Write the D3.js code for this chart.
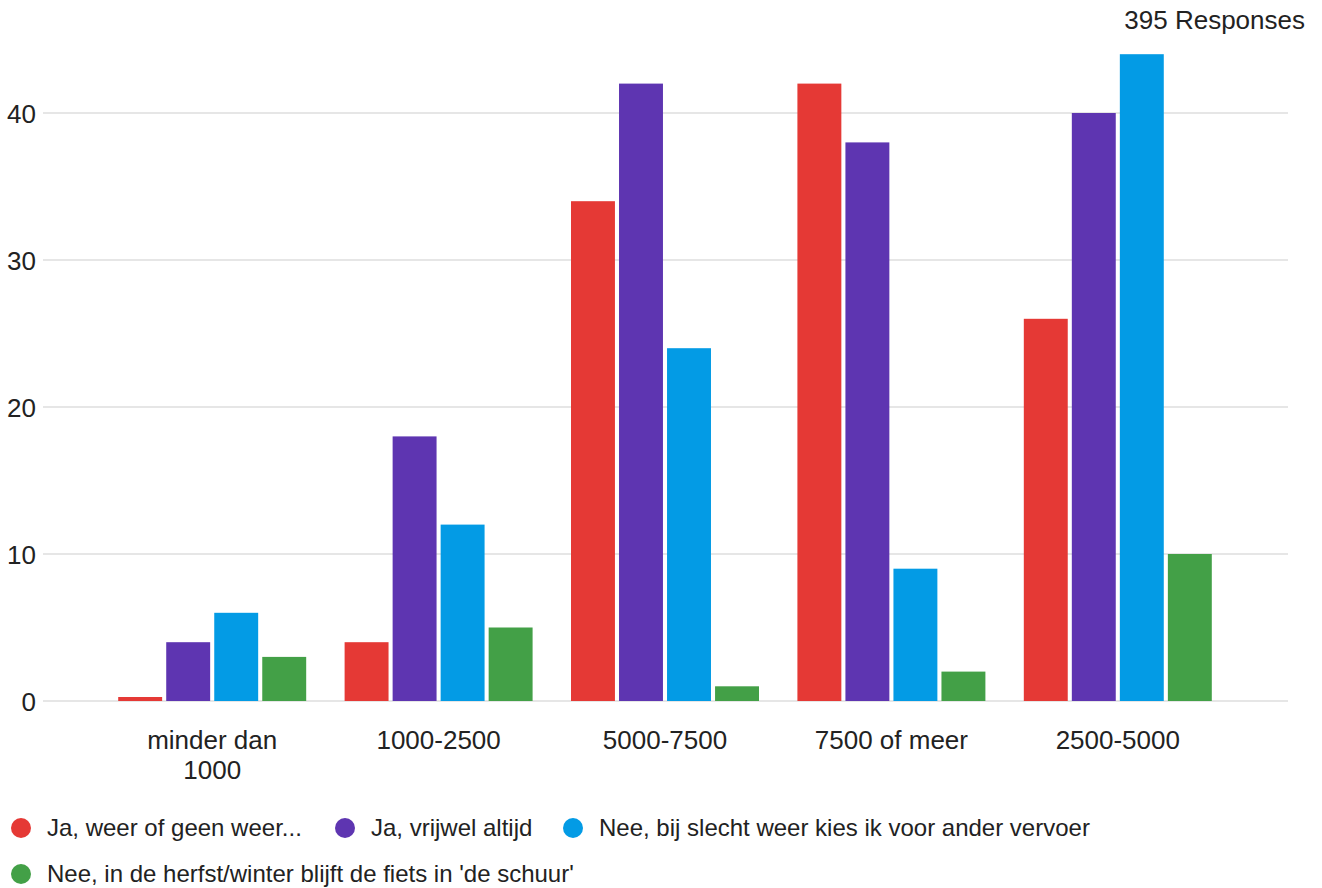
<!DOCTYPE html>
<html>
<head>
<meta charset="utf-8">
<script src="https://cdn.jsdelivr.net/npm/d3@7"></script>
<style>
  html, body { margin: 0; padding: 0; background: #fff; }
  svg { display: block; font-family: "Liberation Sans", Arial, sans-serif; }
</style>
</head>
<body>
<svg id="chart" width="1322" height="888"></svg>
<script>
const categories = ["minder dan 1000", "1000-2500", "5000-7500", "7500 of meer", "2500-5000"];
const categoryLines = [["minder dan", "1000"], ["1000-2500"], ["5000-7500"], ["7500 of meer"], ["2500-5000"]];
const seriesNames = [
  "Ja, weer of geen weer...",
  "Ja, vrijwel altijd",
  "Nee, bij slecht weer kies ik voor ander vervoer",
  "Nee, in de herfst/winter blijft de fiets in 'de schuur'"
];
const seriesColors = ["#e53935", "#5e35b1", "#039be5", "#43a047"];
const jaWeerValues   = [0, 4, 34, 42, 26];
const jaVrijwelValues = [4, 18, 42, 38, 40];
const neeSlechtValues = [6, 12, 24, 9, 44];
const neeSchuurValues = [3, 5, 1, 2, 10];
const seriesValues = [jaWeerValues, jaVrijwelValues, neeSlechtValues, neeSchuurValues];
const yTicks = [0, 10, 20, 30, 40];
const totalLabel = "395 Responses";

const svg = d3.select("#chart");
const textColor = "#222";
const font = "'Liberation Sans', Arial, sans-serif";

const x0 = d3.scaleBand().domain(categories).range([99, 1231]).paddingInner(0).paddingOuter(0);
const x1 = d3.scaleBand().domain(d3.range(seriesNames.length)).range([0, x0.bandwidth()])
  .paddingInner(0.085).paddingOuter(0.4);
const y = d3.scaleLinear().domain([0, 40]).range([701, 113]);

// gridlines
const grid = svg.append("g");
grid.selectAll("line").data(yTicks).join("line")
  .attr("x1", 43).attr("x2", 1288)
  .attr("y1", d => y(d)).attr("y2", d => y(d))
  .attr("stroke", "#e6e6e6").attr("stroke-width", 2);

// y axis labels via d3 axis
const yAxis = d3.axisLeft(y).tickValues(yTicks).tickSize(0).tickPadding(0);
const yg = svg.append("g").attr("transform", "translate(36,0)").call(yAxis);
yg.select(".domain").remove();
yg.selectAll("text").attr("font-size", 26).attr("fill", textColor)
  .attr("font-family", font).attr("dy", "0.36em");

// bars
const groups = svg.append("g").selectAll("g").data(categories).join("g")
  .attr("transform", d => `translate(${x0(d)},0)`);
groups.selectAll("rect")
  .data((c, ci) => seriesValues.map((vals, si) => ({ si, v: vals[ci] })))
  .join("rect")
  .attr("x", d => x1(d.si))
  .attr("width", x1.bandwidth())
  .attr("y", d => Math.min(y(d.v), y(0) - 4))
  .attr("height", d => Math.max(y(0) - y(d.v), 4))
  .attr("fill", d => seriesColors[d.si]);

// x axis labels
const xl = svg.append("g");
categories.forEach((c, i) => {
  const t = xl.append("text")
    .attr("x", x0(c) + x0.bandwidth() / 2)
    .attr("y", 749)
    .attr("text-anchor", "middle")
    .attr("font-size", 26)
    .attr("fill", textColor);
  categoryLines[i].forEach((line, li) => {
    t.append("tspan").attr("x", x0(c) + x0.bandwidth() / 2).attr("dy", li === 0 ? 0 : 30).text(line);
  });
});

// responses label
svg.append("text").attr("x", 1305).attr("y", 29).attr("text-anchor", "end")
  .attr("font-size", 26).attr("fill", textColor).text(totalLabel);

// legend
const legendPos = [[21, 828], [345, 828], [573, 828], [21, 874]];
const lg = svg.append("g");
seriesNames.forEach((name, i) => {
  const [lx, ly] = legendPos[i];
  lg.append("circle").attr("cx", lx).attr("cy", ly).attr("r", 10).attr("fill", seriesColors[i]);
  lg.append("text").attr("x", lx + 26).attr("y", ly + 8).attr("font-size", 24)
    .attr("fill", textColor).text(name);
});
</script>
</body>
</html>
